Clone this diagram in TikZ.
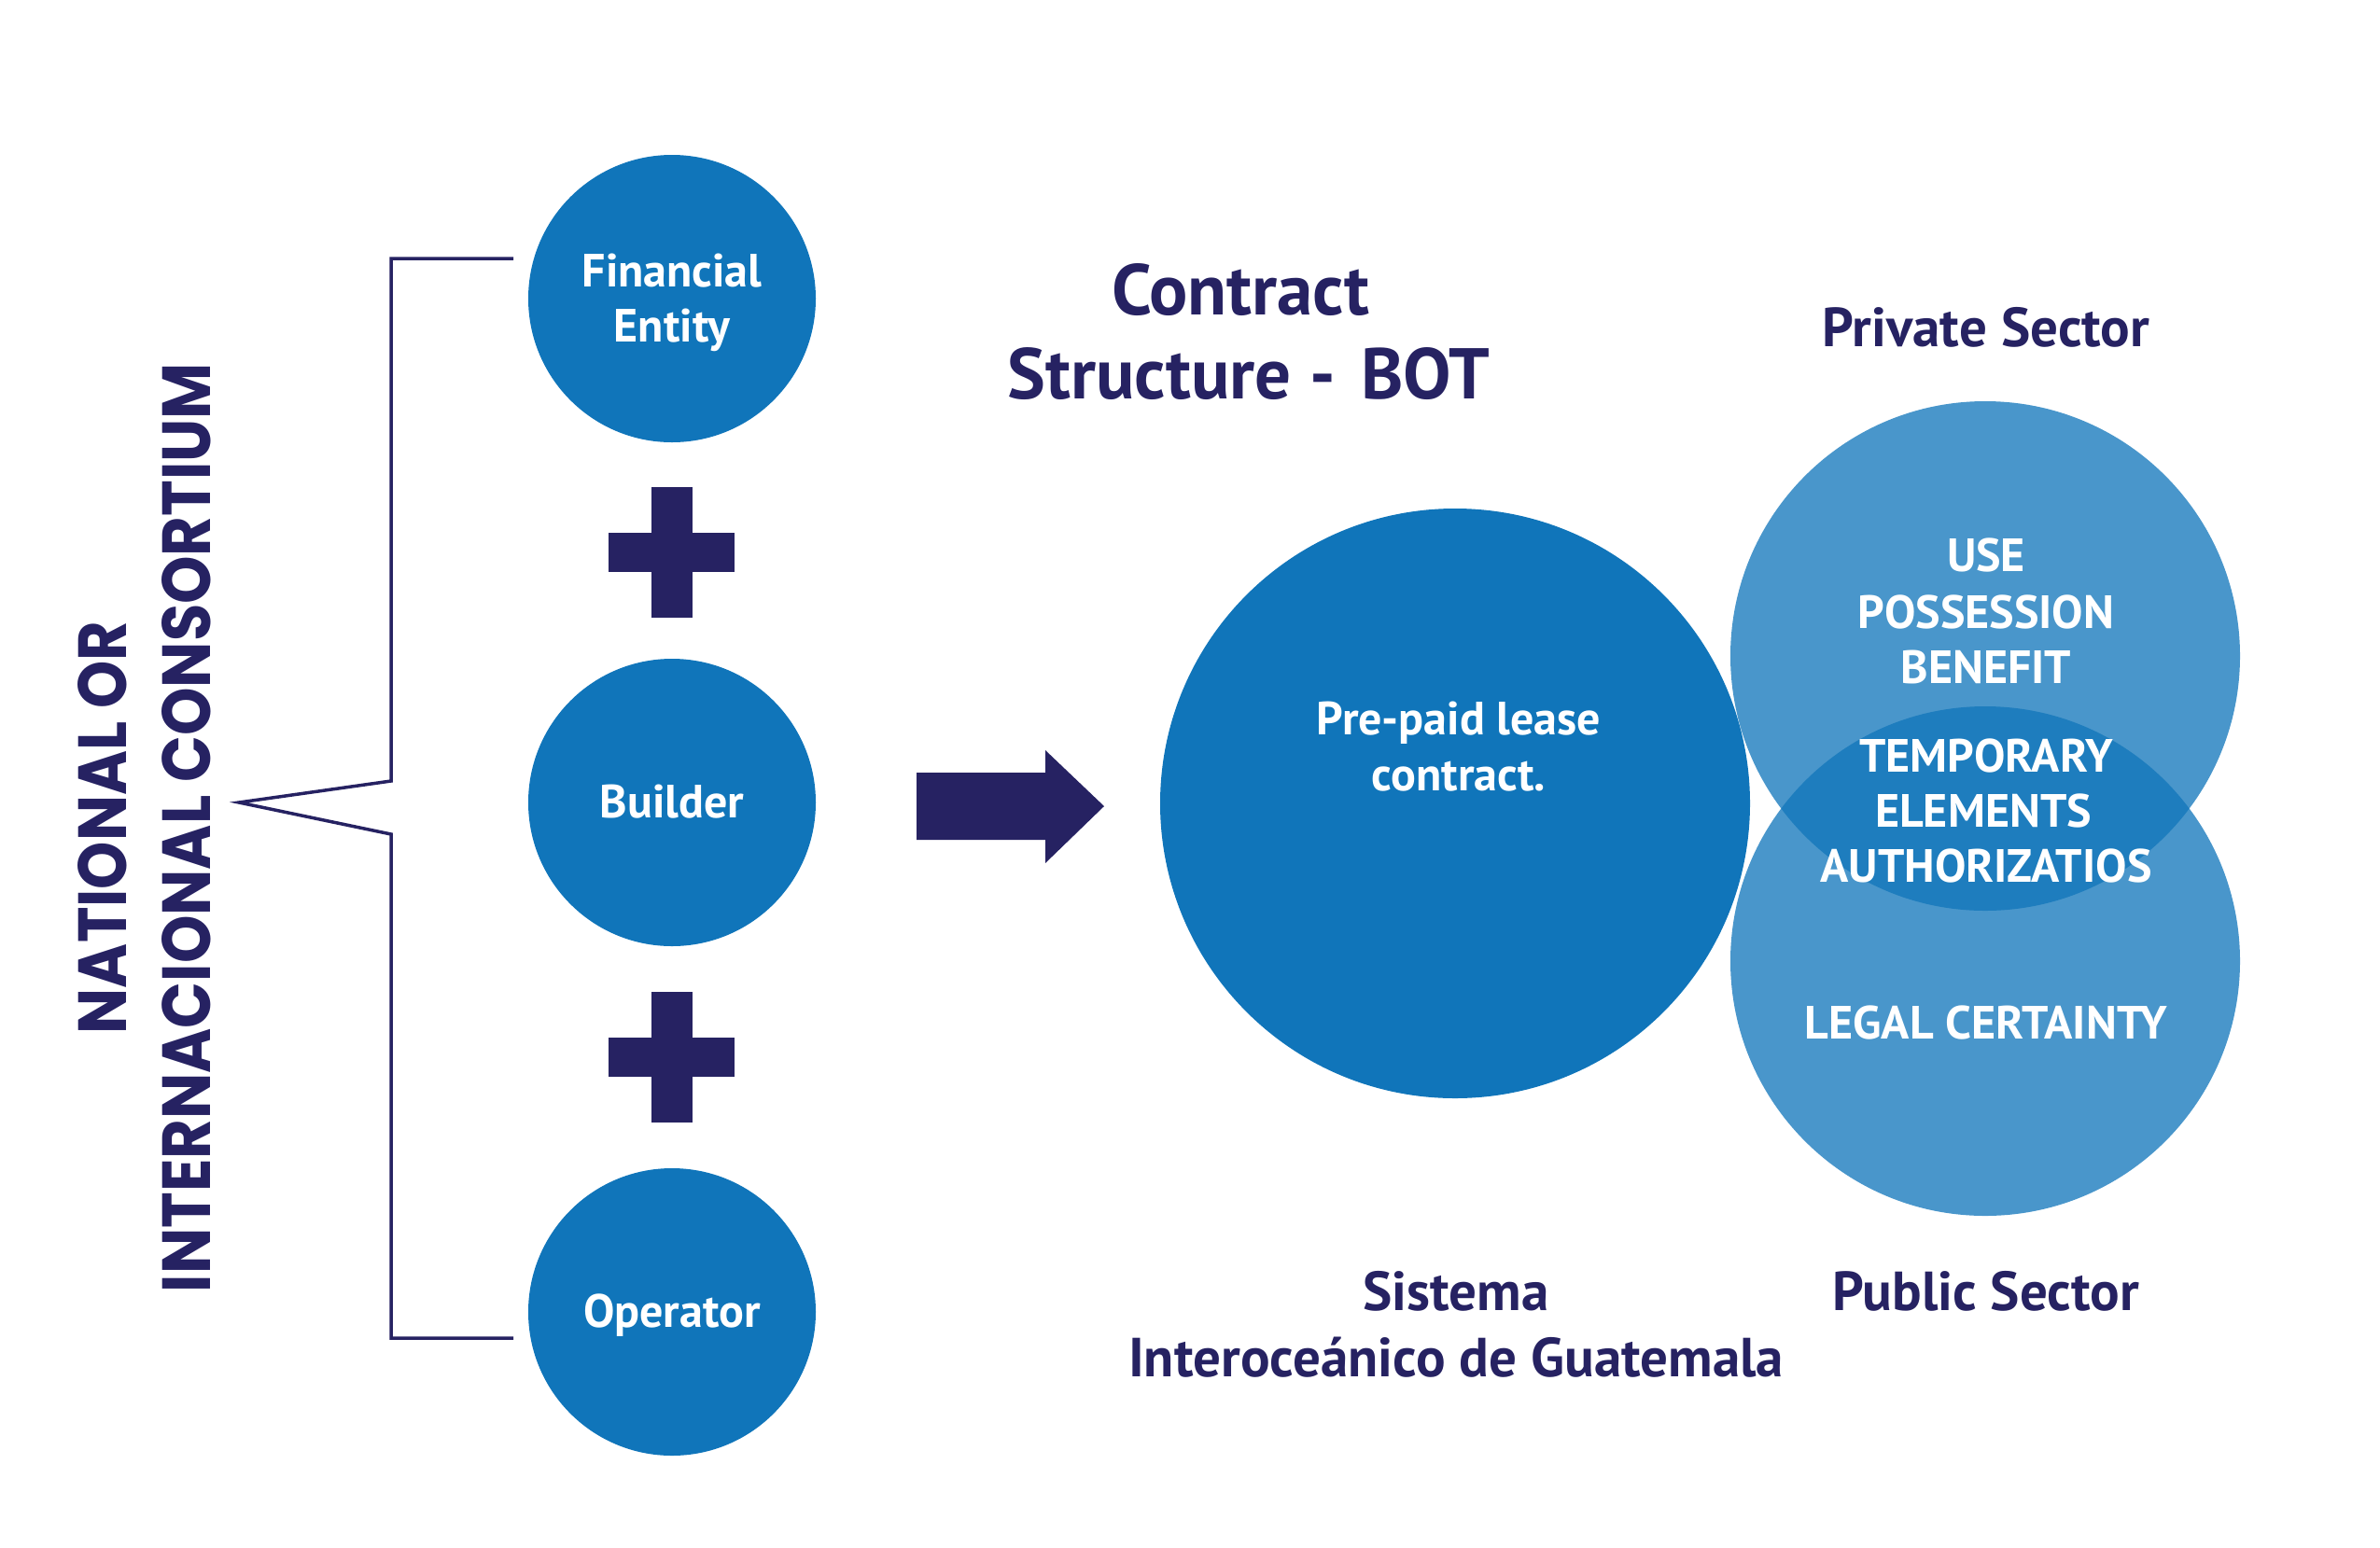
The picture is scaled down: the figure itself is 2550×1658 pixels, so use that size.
\documentclass[tikz,border=0pt]{standalone}
\usepackage{fontspec}
\setmainfont{PT Sans}
\newfontfamily\geofont{Poppins}
\usepackage{graphicx}
\definecolor{cblue}{HTML}{1075BA}
\definecolor{navy}{HTML}{262262}
\begin{document}
\begin{tikzpicture}[x=1pt,y=-1pt,
  circ/.style={circle, fill=cblue, inner sep=0pt, minimum size=#1},
  lightcirc/.style={circle, fill=cblue, fill opacity=0.76, inner sep=0pt, minimum size=546pt},
  wlbl/.style={anchor=base, inner sep=0pt, text=white, font=\bfseries\fontsize{50}{60}\selectfont},
  nlbl/.style={anchor=base, inner sep=0pt, text=navy, font=\bfseries\fontsize{59}{70}\selectfont},
  ttl/.style={anchor=base, inner sep=0pt, text=navy, font=\bfseries\fontsize{77}{90}\selectfont},
  vlbl/.style={anchor=base, rotate=90, inner sep=0pt, text=navy, font=\geofont\bfseries},
  bracketline/.style={draw=navy, line width=3.5pt, miter limit=20},
  plusfill/.style={fill=navy},
]
\useasboundingbox (0,0) rectangle (2550,1658);

% circles
\node[circ=308pt] (fin) at (720,320) {};
\node[circ=308pt] (bld) at (720,860) {};
\node[circ=308pt] (opr) at (720,1406) {};
\node[lightcirc] (priv) at (2127,703) {};
\node[lightcirc] (pub) at (2127,1030) {};
\node[circ=632pt] (lease) at (1559,861) {};

% left circle labels
\node[wlbl] (finA) at (720,307) {Financial};
\node[wlbl] (finB) at (720,366) {Entity};
\node[wlbl] (bldA) at (720,876) {Builder};
\node[wlbl] (oprA) at (720,1422) {Operator};

% plus signs
\foreach \py in {592,1133}{
  \fill[plusfill] (698,\py-70) rectangle (742,\py+70);
  \fill[plusfill] (652,\py-21) rectangle (787,\py+21);
}

% bracket
\coordinate (bT) at (550,277);
\coordinate (bTL) at (419,277);
\coordinate (bM1) at (419,837);
\coordinate (btip) at (256,860);
\coordinate (bM2) at (419,894);
\coordinate (bBL) at (419,1434);
\coordinate (bB) at (550,1434);
\draw[bracketline] (bT) -- (bTL) -- (bM1) -- (btip) -- (bM2) -- (bBL) -- (bB);

% vertical title
\node[vlbl] (nat) at (135,887) {\resizebox{442pt}{52pt}{NATIONAL OR}};
\node[vlbl] (intl) at (225,887) {\resizebox{996pt}{52pt}{INTERNACIONAL CONSORTIUM}};

% big arrow
\fill[navy] (982,828) -- (1120,828) -- (1120,804) -- (1183,864) -- (1120,925) -- (1120,900) -- (982,900) -- cycle;

% title
\node[ttl] (t1) at (1329,337) {Contract};
\node[ttl] (t2) at (1338,427) {Structure - \hspace{8pt}BOT};

% big circle text
\node[wlbl] (l1) at (1563,787) {Pre-paid lease};
\node[wlbl] (l2) at (1563,847) {contract.};

% right circle texts
\node[nlbl] (privt) at (2128,371) {Private Sector};
\node[wlbl] (r1) at (2128,612) {USE};
\node[wlbl] (r2) at (2128,673) {POSSESSION};
\node[wlbl] (r3) at (2128,732) {BENEFIT};
\node[wlbl] (r4) at (2128,827) {TEMPORARY};
\node[wlbl] (r5) at (2125,886) {ELEMENTS};
\node[wlbl] (r6) at (2128,945) {AUTHORIZATIOS};
\node[wlbl] (r7) at (2128,1113) {LEGAL CERTAINTY};

% bottom texts
\node[nlbl] (s1) at (1560,1404) {Sistema};
\node[nlbl] (s2) at (1560,1475) {Interoceánico de Guatemala};
\node[nlbl] (pubt) at (2128,1404) {Public Sector};
\end{tikzpicture}
\end{document}
